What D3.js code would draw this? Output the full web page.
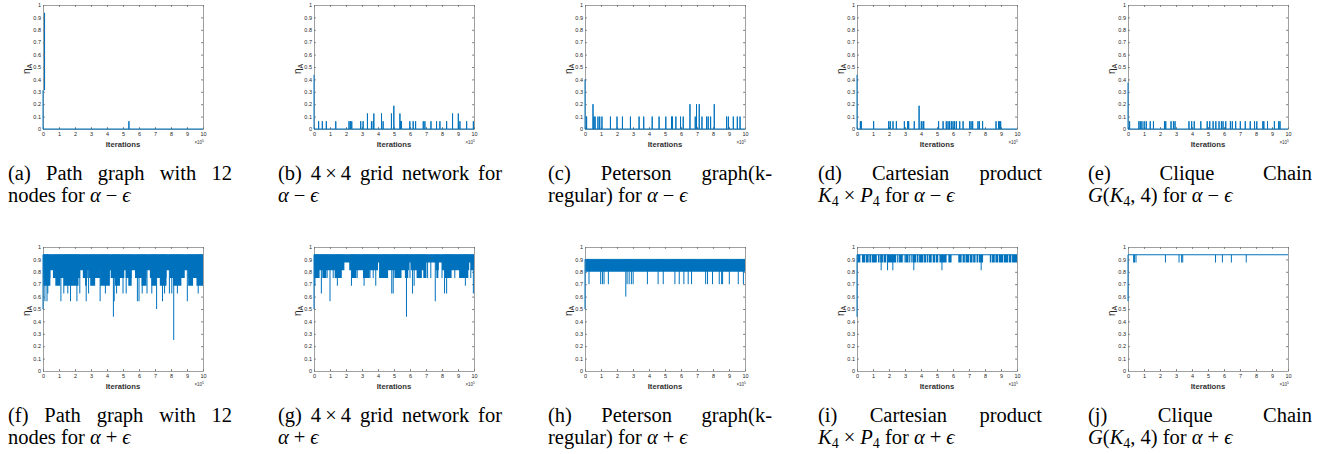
<!DOCTYPE html>
<html>
<head>
<meta charset="utf-8">
<script src="https://cdn.jsdelivr.net/npm/d3@7"></script>
<style>
  html, body { margin: 0; padding: 0; background: #fff; }
  svg { display: block; }
</style>
</head>
<body>
<svg id="chart" width="1330" height="454"></svg>
<script>
// ---- axis ticks / labels
var xTickValues = [0, 1, 2, 3, 4, 5, 6, 7, 8, 9, 10];
var xTickLabels = ['0', '1', '2', '3', '4', '5', '6', '7', '8', '9', '10'];
var yTickValues = [0, 0.1, 0.2, 0.3, 0.4, 0.5, 0.6, 0.7, 0.8, 0.9, 1];
var yTickLabels = ['0', '0.1', '0.2', '0.3', '0.4', '0.5', '0.6', '0.7', '0.8', '0.9', '1'];
var xLabel = 'Iterations';
var xExponent = '5';

// ---- top row (alpha - eps): start value at x=0, spikes [iter x1e5, eta]
var pathMinusStart = 0.3125;
var pathMinusBurst = [[0, 0.3125, 0.9375], [0.13, 0.3125, 0.9375]];
var pathMinusSpikes = [[5.37, 0.0625]];

var gridMinusStart = 0.4375;
var gridMinusSpikes = [
  [0.29, 0.0625], [0.52, 0.0625], [0.77, 0.0625], [1.36, 0.0625], [2.19, 0.0625], [2.28, 0.0625],
  [2.36, 0.0625], [2.92, 0.0625], [3.07, 0.0625], [3.34, 0.125], [3.59, 0.0625], [3.7, 0.0625],
  [3.74, 0.125], [4.22, 0.125], [4.32, 0.0625], [4.84, 0.125], [4.99, 0.1875], [5.37, 0.125],
  [5.41, 0.0625], [5.47, 0.0625], [5.99, 0.0625], [6.2, 0.0625], [6.35, 0.0625], [6.83, 0.0625],
  [6.93, 0.0625], [7.31, 0.0625], [7.66, 0.0625], [7.87, 0.0625], [8.29, 0.0625], [8.66, 0.125],
  [9.02, 0.125], [9.12, 0.0625], [9.54, 0.0625], [9.96, 0.0625]
];

var petersonMinusStart = 0.4;
var petersonMinusSpikes = [
  [0.1, 0.1], [0.5, 0.2], [0.56, 0.1], [0.63, 0.1], [0.81, 0.1], [0.92, 0.1], [1.06, 0.1],
  [1.59, 0.1], [2.0, 0.1], [2.34, 0.1], [2.84, 0.1], [3.38, 0.1], [3.67, 0.1], [4.2, 0.1],
  [4.63, 0.1], [5.05, 0.1], [5.41, 0.1], [5.47, 0.1], [5.68, 0.1], [5.97, 0.1], [6.14, 0.1],
  [6.56, 0.2], [6.89, 0.1], [6.97, 0.2], [7.14, 0.2], [7.31, 0.1], [7.6, 0.1], [7.7, 0.1],
  [7.85, 0.1], [8.08, 0.2], [8.85, 0.1], [8.96, 0.1], [9.27, 0.1], [9.52, 0.1], [9.69, 0.1]
];

var cartMinusStart = 0.4375;
var cartMinusSpikes = [
  [0.21, 0.0625], [0.27, 0.0625], [1.04, 0.0625], [1.98, 0.0625], [2.08, 0.0625], [2.25, 0.0625],
  [2.46, 0.0625], [2.96, 0.0625], [3.17, 0.0625], [3.23, 0.0625], [3.58, 0.0625], [3.88, 0.1875],
  [4.02, 0.0625], [4.13, 0.0625], [4.17, 0.0625], [5.1, 0.0625], [5.38, 0.0625], [5.58, 0.0625],
  [5.69, 0.0625], [5.79, 0.0625], [5.9, 0.0625], [6.0, 0.0625], [6.1, 0.0625], [6.21, 0.0625],
  [6.42, 0.0625], [6.63, 0.0625], [7.04, 0.0625], [7.13, 0.0625], [7.23, 0.0625], [7.56, 0.0625],
  [7.65, 0.0625], [7.85, 0.0625], [8.69, 0.0625], [8.85, 0.0625], [8.92, 0.0625], [8.98, 0.0625]
];

var cliqueMinusStart = 0.375;
var cliqueMinusSpikes = [
  [0.1, 0.0625], [0.68, 0.0625], [0.77, 0.0625], [0.87, 0.0625], [1.01, 0.0625], [1.14, 0.0625],
  [1.39, 0.0625], [1.59, 0.0625], [2.28, 0.0625], [2.36, 0.0625], [2.69, 0.0625], [2.84, 0.0625],
  [2.94, 0.0625], [3.81, 0.0625], [3.98, 0.0625], [4.14, 0.0625], [4.55, 0.0625], [4.95, 0.0625],
  [5.11, 0.0625], [5.32, 0.0625], [5.49, 0.0625], [5.69, 0.0625], [5.84, 0.0625], [5.94, 0.0625],
  [6.11, 0.0625], [6.4, 0.0625], [6.52, 0.0625], [6.73, 0.0625], [7.02, 0.0625], [7.33, 0.0625],
  [7.64, 0.0625], [7.91, 0.0625], [8.05, 0.0625], [8.43, 0.0625], [8.49, 0.0625], [8.72, 0.0625],
  [9.15, 0.0625], [9.42, 0.0625], [9.5, 0.0625]
];

// ---- bottom row (alpha + eps): start, top level, dense bands {lo, gaps}, dips [iter, eta]
var pathPlusStart = 0.5;
var pathPlusTop = 0.9375;
var pathPlusBands = [
  { lo: 0.8125, gaps: [] },
  { lo: 0.75, gaps: [[0.46, 0.62], [2.32, 2.49], [2.8, 2.88], [3.57, 3.67], [4.15, 4.23], [5.08, 5.17],
                     [5.54, 5.75], [6.47, 6.68], [7.72, 7.93], [8.2, 8.28], [8.86, 9.07]] },
  { lo: 0.6875, gaps: [[0.46, 0.77], [1.08, 1.29], [2.22, 2.63], [2.74, 2.95], [3.26, 3.57], [4.18, 4.5],
                       [4.81, 5.33], [5.54, 6.16], [6.47, 6.78], [7.09, 7.3], [7.72, 8.13], [8.65, 9.07],
                       [9.38, 9.59]] }
];
var pathPlusDips = [
  [0.12, 0.5625], [0.25, 0.5625], [0.3, 0.625], [1.12, 0.5625], [1.3, 0.625], [1.55, 0.625],
  [1.72, 0.5625], [2.12, 0.5625], [2.3, 0.625], [2.7, 0.5625], [2.85, 0.625], [3.57, 0.5625],
  [3.9, 0.625], [4.4, 0.4375], [4.45, 0.5625], [4.6, 0.625], [5.0, 0.625], [5.2, 0.625],
  [5.9, 0.5625], [6.0, 0.5625], [6.2, 0.625], [6.5, 0.625], [6.8, 0.625], [7.1, 0.5],
  [7.47, 0.5625], [7.6, 0.625], [7.9, 0.625], [8.05, 0.625], [8.17, 0.25], [8.4, 0.625],
  [9.02, 0.5625], [9.7, 0.625]
];

var gridPlusStart = 0.5;
var gridPlusTop = 0.9375;
var gridPlusBands = [
  { lo: 0.875, gaps: [] },
  { lo: 0.8125, gaps: [[1.9, 2.2], [4.0, 4.2], [5.95, 6.05], [7.0, 7.6], [7.8, 8.0], [9.7, 9.8]] },
  { lo: 0.75, gaps: [[0.35, 0.56], [0.77, 1.29], [1.71, 2.34], [2.65, 3.06], [3.48, 4.11], [4.63, 5.05],
                     [5.47, 5.68], [5.89, 6.41], [6.72, 6.83], [7.03, 7.66], [7.77, 8.18], [8.6, 9.12],
                     [9.64, 10]] }
];
var gridPlusDips = [
  [0.06, 0.6875], [0.15, 0.75], [0.46, 0.625], [0.55, 0.75], [0.82, 0.75], [1.0, 0.5625],
  [1.2, 0.75], [1.4, 0.75], [1.46, 0.6875], [1.7, 0.75], [2.34, 0.6875], [2.5, 0.75],
  [2.7, 0.75], [3.13, 0.6875], [3.3, 0.75], [3.5, 0.75], [3.7, 0.75], [3.86, 0.6875],
  [4.1, 0.75], [4.5, 0.75], [4.86, 0.625], [4.95, 0.625], [5.0, 0.75], [5.2, 0.75],
  [5.78, 0.4375], [6.0, 0.75], [6.16, 0.625], [6.26, 0.6875], [6.5, 0.75], [6.7, 0.75],
  [7.1, 0.75], [7.3, 0.75], [7.58, 0.5625], [7.7, 0.75], [8.0, 0.75], [8.16, 0.625],
  [8.29, 0.625], [8.5, 0.75], [8.8, 0.75], [9.1, 0.75], [9.46, 0.6875], [9.6, 0.75],
  [9.8, 0.75], [9.96, 0.625]
];

var petersonPlusStart = 0.5;
var petersonPlusTop = 0.9;
var petersonPlusBands = [{ lo: 0.8, gaps: [] }];
var petersonPlusDips = [
  [0.25, 0.7], [0.98, 0.7], [1.09, 0.7], [1.19, 0.7], [1.46, 0.7], [2.55, 0.6], [2.63, 0.7],
  [2.76, 0.7], [2.9, 0.7], [3.01, 0.7], [3.9, 0.7], [4.57, 0.7], [4.89, 0.7], [5.62, 0.7],
  [5.89, 0.7], [6.18, 0.7], [6.45, 0.7], [6.66, 0.7], [7.54, 0.7], [7.66, 0.7], [7.97, 0.7],
  [8.39, 0.7], [8.54, 0.7], [8.6, 0.7], [9.02, 0.7], [9.58, 0.7], [9.9, 0.7]
];

var cartPlusStart = 0.4375;
var cartPlusTop = 0.9375;
var cartPlusBands = [
  { lo: 0.875, gaps: [[0.21, 0.31], [0.52, 0.56], [0.73, 0.77], [0.89, 0.93], [1.24, 1.31], [1.41, 1.45],
                      [1.62, 1.66], [1.83, 1.89], [2.45, 2.51], [2.59, 2.63], [2.86, 2.93], [2.97, 3.01],
                      [3.22, 3.26], [3.32, 3.36], [3.42, 3.46], [3.69, 3.73], [3.84, 3.88], [4.15, 4.19],
                      [4.32, 4.36], [4.46, 4.5], [4.67, 4.73], [4.88, 4.92], [5.08, 5.15], [5.6, 5.71],
                      [5.91, 6.33], [6.54, 6.6], [6.74, 6.78], [7.01, 7.05], [7.22, 7.26], [7.41, 7.47],
                      [7.57, 7.61], [7.88, 8.3], [8.4, 8.44], [8.61, 8.65], [8.82, 8.86], [9.13, 9.17],
                      [9.44, 9.48], [9.65, 9.69]] }
];
var cartPlusDips = [[1.51, 0.8125], [1.91, 0.8125], [2.24, 0.8125], [3.55, 0.8125], [5.31, 0.8125], [7.76, 0.8125]];

var cliquePlusStart = 0.5625;
var cliquePlusTop = 0.9375;
var cliquePlusBands = [];
var cliquePlusDips = [
  [0.35, 0.875], [0.41, 0.875], [0.5, 0.875], [2.34, 0.875], [3.19, 0.875], [3.35, 0.875],
  [3.42, 0.875], [5.47, 0.875], [5.9, 0.875], [6.46, 0.875], [7.39, 0.875]
];

// ---- captions ({i:..} italic, {s:..} subscript, {m:..} binary operator with math spacing)
var captionTop1 = ['(a) Path graph with 12', '(b) 4\u2009×\u20094 grid network for', '(c) Peterson graph(k-',
                   '(d) Cartesian product', '(e) Clique Chain'];
var captionTop2 = ['nodes for {i:α}{m:−}{i:ϵ}', '{i:α}{m:−}{i:ϵ}', 'regular) for {i:α}{m:−}{i:ϵ}',
                   '{i:K}{s:4}{m:×}{i:P}{s:4} for {i:α}{m:−}{i:ϵ}', '{i:G}({i:K}{s:4}, 4) for {i:α}{m:−}{i:ϵ}'];
var captionBot1 = ['(f) Path graph with 12', '(g) 4\u2009×\u20094 grid network for', '(h) Peterson graph(k-',
                   '(i) Cartesian product', '(j) Clique Chain'];
var captionBot2 = ['nodes for {i:α}{m:+}{i:ϵ}', '{i:α}{m:+}{i:ϵ}', 'regular) for {i:α}{m:+}{i:ϵ}',
                   '{i:K}{s:4}{m:×}{i:P}{s:4} for {i:α}{m:+}{i:ϵ}', '{i:G}({i:K}{s:4}, 4) for {i:α}{m:+}{i:ϵ}'];

var topPanels = [
  { start: pathMinusStart, spikes: pathMinusSpikes, burst: pathMinusBurst },
  { start: gridMinusStart, spikes: gridMinusSpikes },
  { start: petersonMinusStart, spikes: petersonMinusSpikes },
  { start: cartMinusStart, spikes: cartMinusSpikes },
  { start: cliqueMinusStart, spikes: cliqueMinusSpikes }
];
var botPanels = [
  { start: pathPlusStart, top: pathPlusTop, bands: pathPlusBands, dips: pathPlusDips },
  { start: gridPlusStart, top: gridPlusTop, bands: gridPlusBands, dips: gridPlusDips },
  { start: petersonPlusStart, top: petersonPlusTop, bands: petersonPlusBands, dips: petersonPlusDips },
  { start: cartPlusStart, top: cartPlusTop, bands: cartPlusBands, dips: cartPlusDips },
  { start: cliquePlusStart, top: cliquePlusTop, bands: cliquePlusBands, dips: cliquePlusDips }
];

// ---- layout
var colLeft = [43, 314, 585, 857, 1128];
var plotW = 160, plotH = 124;
var rowTop = [5, 247];
var capLeft = [8, 278, 548, 818, 1088];
var capW = 224;
var capBase = [180, 422];
var lineColor = '#0072BD';
var sans = 'Liberation Sans, Arial, Helvetica, sans-serif';
var serif = 'Liberation Serif, Times New Roman, DejaVu Serif, serif';

var svg = d3.select('#chart');

function parseMarkup(str) {
  var parts = [], re = /\{(i|s|m):([^}]*)\}/g, last = 0, m;
  while ((m = re.exec(str)) !== null) {
    if (m.index > last) parts.push({ t: str.slice(last, m.index), s: '' });
    parts.push({ t: m[2], s: m[1] });
    last = re.lastIndex;
  }
  if (last < str.length) parts.push({ t: str.slice(last), s: '' });
  return parts;
}

function fillParts(text, parts) {
  var shift = 0, pendingDx = 0;
  parts.forEach(function(p) {
    var ts = text.append('tspan').text(p.t);
    var dx = pendingDx, dy = 0;
    pendingDx = 0;
    if (p.s === 'i') ts.attr('font-style', 'italic');
    if (p.s === 'm') { dx += 5; pendingDx = 5; }
    if (p.s === 's') { ts.attr('font-size', 14); if (!shift) { dy = 4; shift = 4; } }
    else if (shift) { dy = -shift; shift = 0; }
    if (dx) ts.attr('dx', dx);
    if (dy) ts.attr('dy', dy);
  });
}

function drawCaption(x, y, line1, line2) {
  var g = svg.append('g').attr('font-family', serif).attr('font-size', 20.5).attr('fill', '#000');
  var tokens = line1.split(' ');
  var nodes = tokens.map(function(tk) {
    var t = g.append('text').attr('y', y).style('white-space', 'pre');
    fillParts(t, parseMarkup(tk));
    return t;
  });
  var widths = nodes.map(function(t) { return t.node().getComputedTextLength(); });
  var gap = (capW - d3.sum(widths)) / (tokens.length - 1);
  var cx = x;
  nodes.forEach(function(t, i) { t.attr('x', cx); cx += widths[i] + gap; });
  var t2 = g.append('text').attr('x', x).attr('y', y + 22).style('white-space', 'pre');
  fillParts(t2, parseMarkup(line2));
}

function drawAxes(g, x, y) {
  var x0 = x.range()[0], x1 = x.range()[1], y0 = y.range()[0], y1 = y.range()[1];
  var fmtY = function(d, i) { return yTickLabels[i]; };
  var fmtX = function(d, i) { return xTickLabels[i]; };

  g.append('g').attr('transform', 'translate(' + x0 + ',0)')
    .call(d3.axisLeft(y).tickValues(yTickValues).tickFormat(fmtY).tickSizeInner(-1.8).tickSizeOuter(0).tickPadding(2));
  g.append('g').attr('transform', 'translate(' + x1 + ',0)')
    .call(d3.axisRight(y).tickValues(yTickValues).tickFormat('').tickSizeInner(-1.8).tickSizeOuter(0));
  g.append('g').attr('transform', 'translate(0,' + y0 + ')')
    .call(d3.axisBottom(x).tickValues(xTickValues).tickFormat(fmtX).tickSizeInner(-1.8).tickSizeOuter(0).tickPadding(3));
  g.append('g').attr('transform', 'translate(0,' + y1 + ')')
    .call(d3.axisTop(x).tickValues(xTickValues).tickFormat('').tickSizeInner(-1.8).tickSizeOuter(0));

  g.selectAll('.tick text').attr('font-size', 5.5).attr('font-family', sans).attr('fill', '#262626');
  g.selectAll('.domain').attr('stroke', '#a0a0a0');
  g.selectAll('.tick line').attr('stroke', '#777');

  // x label and exponent
  g.append('text').attr('x', (x0 + x1) / 2).attr('y', y0 + 17.5)
    .attr('text-anchor', 'middle').attr('font-family', sans).attr('font-size', 7.7)
    .attr('font-weight', 'bold').attr('fill', '#333').text(xLabel);
  var ex = g.append('text').attr('x', x1 + 1).attr('y', y0 + 15)
    .attr('text-anchor', 'end').attr('font-family', sans).attr('font-size', 4.5).attr('fill', '#333');
  ex.append('tspan').text('×10');
  ex.append('tspan').attr('font-size', 3.5).attr('dy', -2).text(xExponent);

  // y label, eta_A
  var yl = g.append('text')
    .attr('transform', 'translate(' + (x0 - 13.5) + ',' + ((y0 + y1) / 2 + 2) + ') rotate(-90)')
    .attr('text-anchor', 'middle').attr('font-family', sans).attr('font-size', 10).attr('fill', '#262626');
  yl.append('tspan').text('η');
  yl.append('tspan').attr('font-size', 7).attr('dy', 2.5).text('A');
}

function segmentsFrom(gaps, from, to) {
  var segs = [], cur = from;
  gaps.slice().sort(function(a, b) { return a[0] - b[0]; }).forEach(function(gp) {
    if (gp[0] > cur) segs.push([cur, gp[0]]);
    cur = Math.max(cur, gp[1]);
  });
  if (cur < to) segs.push([cur, to]);
  return segs;
}

// ---- top row
topPanels.forEach(function(p, i) {
  var x = d3.scaleLinear().domain([0, 10]).range([colLeft[i], colLeft[i] + plotW]);
  var y = d3.scaleLinear().domain([0, 1]).range([rowTop[0] + plotH, rowTop[0]]);
  var g = svg.append('g');

  var line = d3.line().x(function(d) { return x(d[0]); }).y(function(d) { return y(d[1]); });

  if (p.burst) {
    g.append('path').datum(p.burst)
      .attr('d', d3.area().x(function(d) { return x(d[0]); })
        .y0(function(d) { return y(d[1]); }).y1(function(d) { return y(d[2]); }))
      .attr('fill', lineColor);
  }

  var pts = [[0, p.start], [0, 0]];
  p.spikes.slice().sort(function(a, b) { return a[0] - b[0]; }).forEach(function(s) {
    pts.push([s[0], 0], [s[0], s[1]], [s[0], 0]);
  });
  pts.push([10, 0]);

  drawAxes(g, x, y);

  g.append('path').datum(pts).attr('d', line)
    .attr('fill', 'none').attr('stroke', lineColor).attr('stroke-width', 1).attr('stroke-linejoin', 'bevel');

  drawCaption(capLeft[i], capBase[0], captionTop1[i], captionTop2[i]);
});

// ---- bottom row
botPanels.forEach(function(p, i) {
  var x = d3.scaleLinear().domain([0, 10]).range([colLeft[i], colLeft[i] + plotW]);
  var y = d3.scaleLinear().domain([0, 1]).range([rowTop[1] + plotH, rowTop[1]]);
  var g = svg.append('g');
  var line = d3.line().x(function(d) { return x(d[0]); }).y(function(d) { return y(d[1]); });

  drawAxes(g, x, y);

  p.bands.forEach(function(b) {
    var area = d3.area().x(function(d) { return x(d); }).y0(y(b.lo)).y1(y(p.top));
    segmentsFrom(b.gaps, 0.03, 10).forEach(function(seg) {
      g.append('path').datum(seg).attr('d', area).attr('fill', lineColor);
    });
  });

  g.append('path').datum([[0, p.start], [0, p.top], [10, p.top]]).attr('d', line)
    .attr('fill', 'none').attr('stroke', lineColor).attr('stroke-width', 1);

  p.dips.forEach(function(d) {
    g.append('path').datum([[d[0], p.top], [d[0], d[1]]]).attr('d', line)
      .attr('fill', 'none').attr('stroke', lineColor).attr('stroke-width', 1);
  });

  drawCaption(capLeft[i], capBase[1], captionBot1[i], captionBot2[i]);
});
</script>
</body>
</html>
